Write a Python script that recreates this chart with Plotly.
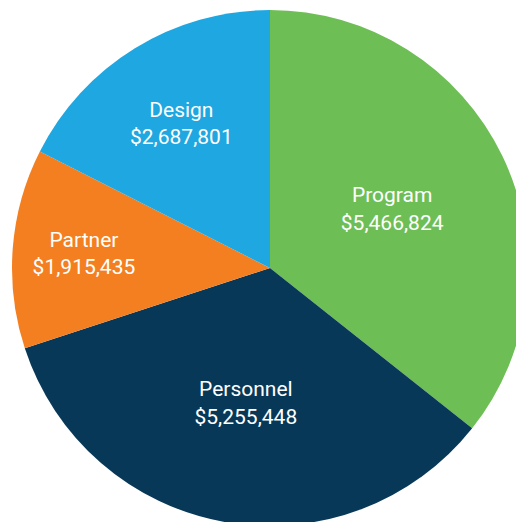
import plotly.graph_objects as go

categories = ["Program", "Personnel", "Partner", "Design"]
values = [5466824, 5255448, 1915435, 2687801]
colors = ["#6EBE56", "#083857", "#F47F21", "#1EA7E0"]

labels_text = [f"{c}<br>${v:,}" for c, v in zip(categories, values)]

fig = go.Figure(go.Pie(
    labels=categories,
    values=values,
    text=labels_text,
    textinfo="text",
    textposition="inside",
    insidetextorientation="horizontal",
    sort=False,
    direction="clockwise",
    rotation=0,
    marker=dict(colors=colors, line=dict(width=0)),
    textfont=dict(family="Roboto", size=21, color="white"),
    hoverinfo="skip",
))

fig.update_layout(
    width=540, height=540,
    margin=dict(l=12, r=12, t=10, b=14),
    showlegend=False,
    paper_bgcolor="white",
)

fig.write_html(
    "out.html",
    config={"displayModeBar": False},
    post_script="document.body.style.margin='0';document.body.style.overflow='hidden';document.documentElement.style.overflow='hidden';",
)
